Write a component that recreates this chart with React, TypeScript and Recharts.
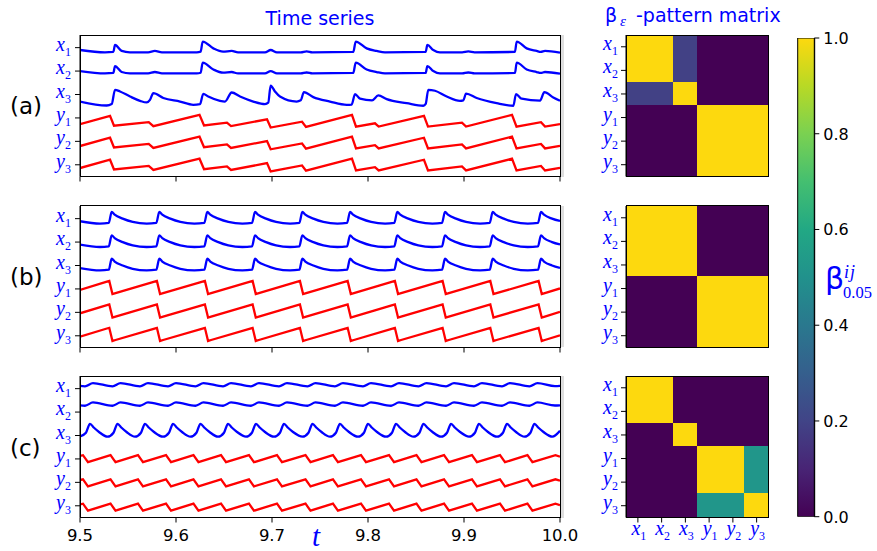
import React from 'react';
import { LineChart, Line, XAxis, YAxis, ScatterChart, Scatter, BarChart, Bar } from 'recharts';

type Pt = [number, number];

const BLUE = '#0000ff';
const RED = '#ff0000';
const SANS = 'DejaVu Sans, sans-serif';
const SERIF = 'Liberation Serif, DejaVu Serif, serif';

const T_TICKS = [9.5, 9.6, 9.7, 9.8, 9.9, 10.0];
const ROW_TICKS = [0, 1, 2, 3, 4, 5];
const NAMES: [string, string][] = [['x', '1'], ['x', '2'], ['x', '3'], ['y', '1'], ['y', '2'], ['y', '3']];
const CB_TICKS = [0, 0.2, 0.4, 0.6, 0.8, 1.0];

// time series, [t, offset from the trace's own row]
const A_X12: Pt[] = [
  [9.5, -0.1], [9.526, -0.2], [9.5347, -0.18], [9.5365, 0.115], [9.5434, -0.14], [9.552, -0.2],
  [9.571, -0.2], [9.578, -0.14], [9.5854, -0.2], [9.6216, -0.2], [9.6257, -0.17], [9.6278, 0.26],
  [9.6389, -0.03], [9.649, -0.17], [9.658, -0.14], [9.6646, -0.2], [9.6927, -0.2], [9.6986, -0.1],
  [9.7052, -0.2], [9.73, -0.2], [9.7361, -0.16], [9.742, -0.2], [9.7847, -0.18], [9.7872, 0.26],
  [9.7986, -0.03], [9.809, -0.14], [9.8177, -0.2], [9.8601, -0.18], [9.8618, 0.115], [9.868, -0.1],
  [9.875, -0.2], [9.898, -0.2], [9.9045, -0.16], [9.911, -0.2], [9.9531, -0.18], [9.9549, 0.26],
  [9.9653, -0.03], [9.9757, -0.14], [9.98, -0.18], [9.9844, -0.14], [10, -0.21],
];
const A_X3: Pt[] = [
  [9.5, -0.3], [9.5278, -0.47], [9.533, -0.41], [9.5365, 0.2], [9.5417, 0.13], [9.5521, -0.085],
  [9.5625, -0.27], [9.5695, -0.34], [9.5729, -0.23], [9.5764, 0.06], [9.5868, -0.15], [9.6042, -0.3],
  [9.618, -0.44], [9.625, -0.41], [9.6284, 0.03], [9.6336, -0.085], [9.6458, -0.27], [9.651, -0.3],
  [9.658, 0.085], [9.6667, -0.085], [9.6805, -0.3], [9.6927, -0.41], [9.6961, -0.35], [9.6986, 0.38],
  [9.7031, 0.13], [9.7083, -0.085], [9.7257, -0.3], [9.7299, -0.25], [9.7333, 0.1], [9.743, -0.11],
  [9.7604, -0.3], [9.7778, -0.44], [9.783, -0.43], [9.7865, 0.02], [9.7917, -0.18], [9.8042, -0.25],
  [9.8107, -0.04], [9.8195, -0.2], [9.8403, -0.37], [9.8576, -0.48], [9.8601, -0.4], [9.8628, 0.2],
  [9.8698, 0.16], [9.882, -0.085], [9.8958, -0.27], [9.8993, -0.25], [9.9021, 0.04], [9.9132, -0.15],
  [9.934, -0.37], [9.9514, -0.48], [9.9542, 0.02], [9.9601, -0.18], [9.9792, -0.26], [9.9837, 0.1],
  [9.993, -0.13], [10, -0.27],
];
const A_Y: Pt[] = [
  [9.5, -0.27], [9.5313, 0.085], [9.5354, -0.33], [9.5716, -0.18], [9.5764, -0.35], [9.6245, 0.13],
  [9.6292, -0.32], [9.6531, -0.2], [9.6573, -0.35], [9.6948, -0.06], [9.6986, -0.41], [9.7313, -0.16],
  [9.7354, -0.38], [9.7833, 0.13], [9.7875, -0.37], [9.8073, -0.23], [9.8111, -0.37], [9.8583, 0.085],
  [9.8625, -0.37], [9.8979, -0.2], [9.9021, -0.37], [9.95, 0.13], [9.9547, -0.37], [9.9802, -0.18],
  [9.9844, -0.37], [10, -0.26],
];
const B_X: Pt[] = [
  [9.5, -0.11], [9.5208, -0.21],
  [9.53, -0.18], [9.533, 0.29], [9.5361, 0.17], [9.5445, 0], [9.5549, -0.14], [9.5695, -0.21],
  [9.5795, -0.18], [9.5826, 0.29], [9.5857, 0.17], [9.5941, 0], [9.6045, -0.14], [9.6191, -0.21],
  [9.6295, -0.18], [9.6326, 0.29], [9.6357, 0.17], [9.6441, 0], [9.6545, -0.14], [9.6691, -0.21],
  [9.6792, -0.18], [9.6823, 0.29], [9.6854, 0.17], [9.6938, 0], [9.7042, -0.14], [9.7188, -0.21],
  [9.7285, -0.18], [9.7316, 0.29], [9.7347, 0.17], [9.7431, 0], [9.7535, -0.14], [9.7681, -0.21],
  [9.7782, -0.18], [9.7813, 0.29], [9.7844, 0.17], [9.7928, 0], [9.8032, -0.14], [9.8178, -0.21],
  [9.8274, -0.18], [9.8305, 0.29], [9.8336, 0.17], [9.842, 0], [9.8524, -0.14], [9.867, -0.21],
  [9.8771, -0.18], [9.8802, 0.29], [9.8833, 0.17], [9.8917, 0], [9.9021, -0.14], [9.9167, -0.21],
  [9.9268, -0.18], [9.9299, 0.29], [9.933, 0.17], [9.9414, 0], [9.9518, -0.14], [9.9664, -0.21],
  [9.9771, -0.18], [9.9802, 0.29], [9.9833, 0.17], [9.9917, 0], [10, -0.1],
];
const B_Y: Pt[] = [
  [9.5, -0.04],
  [9.528, 0.31], [9.5305, 0.34], [9.5338, -0.22], [9.537, -0.18],
  [9.5776, 0.31], [9.5801, 0.34], [9.5834, -0.22], [9.5866, -0.18],
  [9.6276, 0.31], [9.6301, 0.34], [9.6334, -0.22], [9.6366, -0.18],
  [9.6773, 0.31], [9.6798, 0.34], [9.6831, -0.22], [9.6863, -0.18],
  [9.7266, 0.31], [9.7291, 0.34], [9.7324, -0.22], [9.7356, -0.18],
  [9.7763, 0.31], [9.7788, 0.34], [9.7821, -0.22], [9.7853, -0.18],
  [9.8255, 0.31], [9.828, 0.34], [9.8313, -0.22], [9.8345, -0.18],
  [9.8752, 0.31], [9.8777, 0.34], [9.881, -0.22], [9.8842, -0.18],
  [9.9249, 0.31], [9.9274, 0.34], [9.9307, -0.22], [9.9339, -0.18],
  [9.9752, 0.31], [9.9777, 0.34], [9.981, -0.22], [9.9842, -0.18],
  [10, 0.02],
];
const C_X12: Pt[] = [
  [9.5, 0.12], [9.5052, 0.1], [9.5135, 0.24], [9.5339, 0.1], [9.5422, 0.24], [9.5625, 0.1],
  [9.5708, 0.24], [9.5917, 0.1], [9.6, 0.24], [9.6203, 0.1], [9.6286, 0.24], [9.649, 0.1],
  [9.6573, 0.24], [9.6781, 0.1], [9.6864, 0.24], [9.7073, 0.1], [9.7156, 0.24], [9.737, 0.1],
  [9.7453, 0.24], [9.7656, 0.1], [9.7739, 0.24], [9.7948, 0.1], [9.8031, 0.24], [9.824, 0.1],
  [9.8323, 0.24], [9.8526, 0.1], [9.8609, 0.24], [9.8813, 0.1], [9.8896, 0.24], [9.9104, 0.1],
  [9.9187, 0.24], [9.9396, 0.1], [9.9479, 0.24], [9.9682, 0.1], [9.9765, 0.24], [9.9948, 0.11],
  [10, 0.12],
];
const C_X3: Pt[] = [
  [9.5, -0.04], [9.5062, 0.12], [9.5104, 0.5], [9.5146, 0.33], [9.5198, 0.15],
  [9.5287, -0.05], [9.5349, 0.12], [9.5391, 0.5], [9.5433, 0.33], [9.5485, 0.15],
  [9.5573, -0.05], [9.5635, 0.12], [9.5677, 0.5], [9.5719, 0.33], [9.5771, 0.15],
  [9.5865, -0.05], [9.5927, 0.12], [9.5969, 0.5], [9.6011, 0.33], [9.6063, 0.15],
  [9.6151, -0.05], [9.6213, 0.12], [9.6255, 0.5], [9.6297, 0.33], [9.6349, 0.15],
  [9.6438, -0.05], [9.65, 0.12], [9.6542, 0.5], [9.6584, 0.33], [9.6636, 0.15],
  [9.6729, -0.05], [9.6791, 0.12], [9.6833, 0.5], [9.6875, 0.33], [9.6927, 0.15],
  [9.7021, -0.05], [9.7083, 0.12], [9.7125, 0.5], [9.7167, 0.33], [9.7219, 0.15],
  [9.7318, -0.05], [9.738, 0.12], [9.7422, 0.5], [9.7464, 0.33], [9.7516, 0.15],
  [9.7604, -0.05], [9.7666, 0.12], [9.7708, 0.5], [9.775, 0.33], [9.7802, 0.15],
  [9.7896, -0.05], [9.7958, 0.12], [9.8, 0.5], [9.8042, 0.33], [9.8094, 0.15],
  [9.8188, -0.05], [9.825, 0.12], [9.8292, 0.5], [9.8334, 0.33], [9.8386, 0.15],
  [9.8474, -0.05], [9.8536, 0.12], [9.8578, 0.5], [9.862, 0.33], [9.8672, 0.15],
  [9.8761, -0.05], [9.8823, 0.12], [9.8865, 0.5], [9.8907, 0.33], [9.8959, 0.15],
  [9.9052, -0.05], [9.9114, 0.12], [9.9156, 0.5], [9.9198, 0.33], [9.925, 0.15],
  [9.9344, -0.05], [9.9406, 0.12], [9.9448, 0.5], [9.949, 0.33], [9.9542, 0.15],
  [9.963, -0.05], [9.9692, 0.12], [9.9734, 0.5], [9.9776, 0.33], [9.9828, 0.15],
  [9.9922, -0.05], [10, 0.2],
];
const C_Y: Pt[] = [
  [9.5, 0.13],
  [9.5031, 0.16], [9.5083, -0.14], [9.5318, 0.16], [9.537, -0.14], [9.5604, 0.16], [9.5656, -0.14],
  [9.5896, 0.16], [9.5948, -0.14], [9.6182, 0.16], [9.6234, -0.14], [9.6469, 0.16], [9.6521, -0.14],
  [9.676, 0.16], [9.6812, -0.14], [9.7052, 0.16], [9.7104, -0.14], [9.7349, 0.16], [9.7401, -0.14],
  [9.7635, 0.16], [9.7687, -0.14], [9.7927, 0.16], [9.7979, -0.14], [9.8219, 0.16], [9.8271, -0.14],
  [9.8505, 0.16], [9.8557, -0.14], [9.8792, 0.16], [9.8844, -0.14], [9.9083, 0.16], [9.9135, -0.14],
  [9.9375, 0.16], [9.9427, -0.14], [9.9661, 0.16], [9.9713, -0.14],
  [9.9953, 0.16], [10, 0.1],
];

// trace order x1 x2 x3 y1 y2 y3, and each trace's shift off its row
const SHAPES_A = [A_X12, A_X12, A_X3, A_Y, A_Y, A_Y];
const SHIFT_A = [0, 0.1, 0, 0, 0.07, 0.13];
const SHAPES_B = [B_X, B_X, B_X, B_Y, B_Y, B_Y];
const SHIFT_B = [0, 0, 0, 0, 0, 0];
const SHAPES_C = [C_X12, C_X12, C_X3, C_Y, C_Y, C_Y];
const SHIFT_C = [0, 0.17, 0, 0, -0.03, -0.07];

// beta pattern matrices, rows/cols x1 x2 x3 y1 y2 y3
const HM_A = [
  [1, 1, 0.19, 0, 0, 0],
  [1, 1, 0.19, 0, 0, 0],
  [0.19, 0.19, 1, 0, 0, 0],
  [0, 0, 0, 1, 1, 1],
  [0, 0, 0, 1, 1, 1],
  [0, 0, 0, 1, 1, 1],
];
const HM_B = [
  [1, 1, 1, 0, 0, 0],
  [1, 1, 1, 0, 0, 0],
  [1, 1, 1, 0, 0, 0],
  [0, 0, 0, 1, 1, 1],
  [0, 0, 0, 1, 1, 1],
  [0, 0, 0, 1, 1, 1],
];
const HM_C = [
  [1, 1, 0, 0, 0, 0],
  [1, 1, 0, 0, 0, 0],
  [0, 0, 1, 0, 0, 0],
  [0, 0, 0, 1, 1, 0.52],
  [0, 0, 0, 1, 1, 0.52],
  [0, 0, 0, 0.52, 0.52, 1],
];

const VIRIDIS = ['#440154', '#482475', '#414487', '#355f8d', '#2a788e', '#21918c', '#22a884', '#44bf70', '#7ad151', '#b8d925', '#fdd90e'];

const hex = (c: string) => [1, 3, 5].map((i) => parseInt(c.slice(i, i + 2), 16));
function cmap(v: number) {
  const p = Math.max(0, Math.min(1, v)) * 10;
  const i = Math.min(9, Math.floor(p));
  const f = p - i;
  const a = hex(VIRIDIS[i]);
  const b = hex(VIRIDIS[i + 1]);
  const m = a.map((x, k) => Math.round(x + (b[k] - x) * f));
  return `rgb(${m[0]},${m[1]},${m[2]})`;
}

const PLOT_H = 141.5;
const PLOT_TOPS = [35, 205.5, 376];
const TS_W = 480;
const HM_W = 142.5;
const HM_LEFT = 626;

const emptyTick = () => <g />;

const nameText = (x: number, y: number, idx: number, anchor: 'end' | 'middle') => {
  const [l, s] = NAMES[idx];
  return (
    <text x={x} y={y} textAnchor={anchor} fill={BLUE} fontFamily={SERIF}>
      <tspan fontStyle="italic" fontSize={20}>{l}</tspan>
      <tspan fontSize={12} dy={5}>{s}</tspan>
    </text>
  );
};

const seriesNameTick = (p: any) => nameText(p.x - 2, p.y + 3, 5 - p.payload.value, 'end');
const rowTick = (p: any) => nameText(p.x - 1, p.y + 3, p.payload.value, 'end');
const colTick = (p: any) => nameText(p.x + 1, p.y + 10, p.payload.value, 'middle');

const timeTick = (p: any) => (
  <text x={p.x} y={p.y + 16} textAnchor="middle" fill="#000" fontFamily={SANS} fontSize={16.5}>
    {Number(p.payload.value).toFixed(1)}
  </text>
);

const cbTick = (p: any) => (
  <text x={p.x + 2} y={p.y + 6} textAnchor="start" fill="#000" fontFamily={SANS} fontSize={16}>
    {Number(p.payload.value).toFixed(1)}
  </text>
);

const Frame = ({ left, top, width }: { left: number; top: number; width: number }) => (
  <div style={{
    position: 'absolute', left: left - 0.5, top: top - 0.5, width: width + 1, height: PLOT_H + 1,
    border: '1px solid #000', boxSizing: 'border-box', pointerEvents: 'none',
  }} />
);

function SeriesPanel({ top, shapes, shift, labels }: { top: number; shapes: Pt[][]; shift: number[]; labels: boolean }) {
  return (
    <>
      <div style={{ position: 'absolute', left: 0, top: top - 35 }}>
        <LineChart width={610} height={35 + PLOT_H + 30} margin={{ top: 35, right: 610 - 80 - TS_W, bottom: 0, left: 0 }}>
          <XAxis dataKey="t" type="number" domain={[9.5, 10]} ticks={T_TICKS} interval={0} allowDataOverflow
            height={30} tickSize={5} stroke="#000" tick={labels ? timeTick : emptyTick} />
          <YAxis type="number" domain={[-0.5, 5.54]} ticks={ROW_TICKS} interval={0} allowDataOverflow
            width={80} tickSize={5} stroke="#000" tick={seriesNameTick} />
          {shapes.map((s, i) => (
            <Line key={i} data={s.map(([t, v]) => ({ t, v: 5 - i + shift[i] + v }))} dataKey="v"
              type={i < 3 ? 'monotone' : 'linear'} stroke={i < 3 ? BLUE : RED} strokeWidth={2.3}
              dot={false} activeDot={false} isAnimationActive={false} />
          ))}
        </LineChart>
      </div>
      <div style={{ position: 'absolute', left: 80 + TS_W + 1, top, width: 3, height: PLOT_H, background: '#dedede' }} />
      <Frame left={80} top={top} width={TS_W} />
    </>
  );
}

function Heatmap({ top, grid, labels }: { top: number; grid: number[][]; labels: boolean }) {
  const cells = grid.flatMap((row, r) => row.map((v, c) => ({ x: c, y: r, v })));
  const cw = HM_W / 6;
  const ch = PLOT_H / 6;
  const cell = (p: any) => (
    <rect x={p.cx - cw / 2} y={p.cy - ch / 2} width={cw} height={ch} shapeRendering="crispEdges"
      fill={cmap(p.payload.v)} stroke={cmap(p.payload.v)} strokeWidth={1} />
  );
  return (
    <>
      <div style={{ position: 'absolute', left: HM_LEFT - 80, top: top - 35 }}>
        <ScatterChart width={230} height={35 + PLOT_H + 30} margin={{ top: 35, right: 230 - 80 - HM_W, bottom: 0, left: 0 }}>
          <XAxis dataKey="x" type="number" domain={[-0.5, 5.5]} ticks={ROW_TICKS} interval={0} allowDataOverflow
            height={30} tickSize={5} tickLine={labels} stroke="#000" tick={labels ? colTick : emptyTick} />
          <YAxis dataKey="y" type="number" domain={[-0.5, 5.5]} ticks={ROW_TICKS} interval={0} reversed allowDataOverflow
            width={80} tickSize={5} stroke="#000" tick={rowTick} />
          <Scatter data={cells} shape={cell} isAnimationActive={false} />
        </ScatterChart>
      </div>
      <Frame left={HM_LEFT} top={top} width={HM_W} />
    </>
  );
}

function ColorBar() {
  return (
    <div style={{ position: 'absolute', left: 790, top: 0 }}>
      <BarChart width={87} height={551} data={[{ k: 'c', v: 1 }]} barCategoryGap={0}
        margin={{ top: 38, right: 0, bottom: 34.3, left: 7.7 }}>
        <defs>
          <linearGradient id="cmapGrad" x1="0" y1="1" x2="0" y2="0">
            {VIRIDIS.map((c, i) => <stop key={i} offset={`${i * 10}%`} stopColor={c} />)}
          </linearGradient>
        </defs>
        <XAxis dataKey="k" hide />
        <YAxis orientation="right" type="number" domain={[0, 1]} ticks={CB_TICKS} interval={0} allowDataOverflow
          width={62.7} tickSize={5} stroke="#000" tick={cbTick} />
        <Bar dataKey="v" fill="url(#cmapGrad)" stroke="#000" strokeWidth={1} isAnimationActive={false} />
      </BarChart>
    </div>
  );
}

export default function App() {
  return (
    <div style={{ position: 'absolute', left: 0, top: 0, width: 877, height: 551, background: '#fff', overflow: 'hidden' }}>
      <SeriesPanel top={PLOT_TOPS[0]} shapes={SHAPES_A} shift={SHIFT_A} labels={false} />
      <SeriesPanel top={PLOT_TOPS[1]} shapes={SHAPES_B} shift={SHIFT_B} labels={false} />
      <SeriesPanel top={PLOT_TOPS[2]} shapes={SHAPES_C} shift={SHIFT_C} labels />
      <Heatmap top={PLOT_TOPS[0]} grid={HM_A} labels={false} />
      <Heatmap top={PLOT_TOPS[1]} grid={HM_B} labels={false} />
      <Heatmap top={PLOT_TOPS[2]} grid={HM_C} labels />
      <ColorBar />
      <svg width={877} height={551} style={{ position: 'absolute', left: 0, top: 0, pointerEvents: 'none' }}>
        <text x={320} y={25} textAnchor="middle" fill={BLUE} fontFamily={SANS} fontSize={19}>Time series</text>
        <text y={22} fill={BLUE} fontFamily={SANS} fontSize={19}>
          <tspan x={605}>β</tspan>
          <tspan x={620} dy={4} fontSize={15} fontFamily={SERIF} fontStyle="italic">ε</tspan>
          <tspan x={636} dy={-4}>-pattern matrix</tspan>
        </text>
        <text x={10} y={114} fill="#000" fontFamily={SANS} fontSize={23}>(a)</text>
        <text x={10} y={285} fill="#000" fontFamily={SANS} fontSize={23}>(b)</text>
        <text x={10} y={456} fill="#000" fontFamily={SANS} fontSize={23}>(c)</text>
        <text x={312} y={546} fill={BLUE} fontFamily={SERIF} fontStyle="italic" fontSize={29}>t</text>
        <text x={825} y={289} fill={BLUE} fontFamily={SANS} fontSize={30}>β</text>
        <text x={844} y={278} fill={BLUE} fontFamily={SERIF} fontStyle="italic" fontSize={18} letterSpacing={1}>ij</text>
        <text x={843} y={298} fill={BLUE} fontFamily={SERIF} fontSize={16.5}>0.05</text>
      </svg>
    </div>
  );
}
